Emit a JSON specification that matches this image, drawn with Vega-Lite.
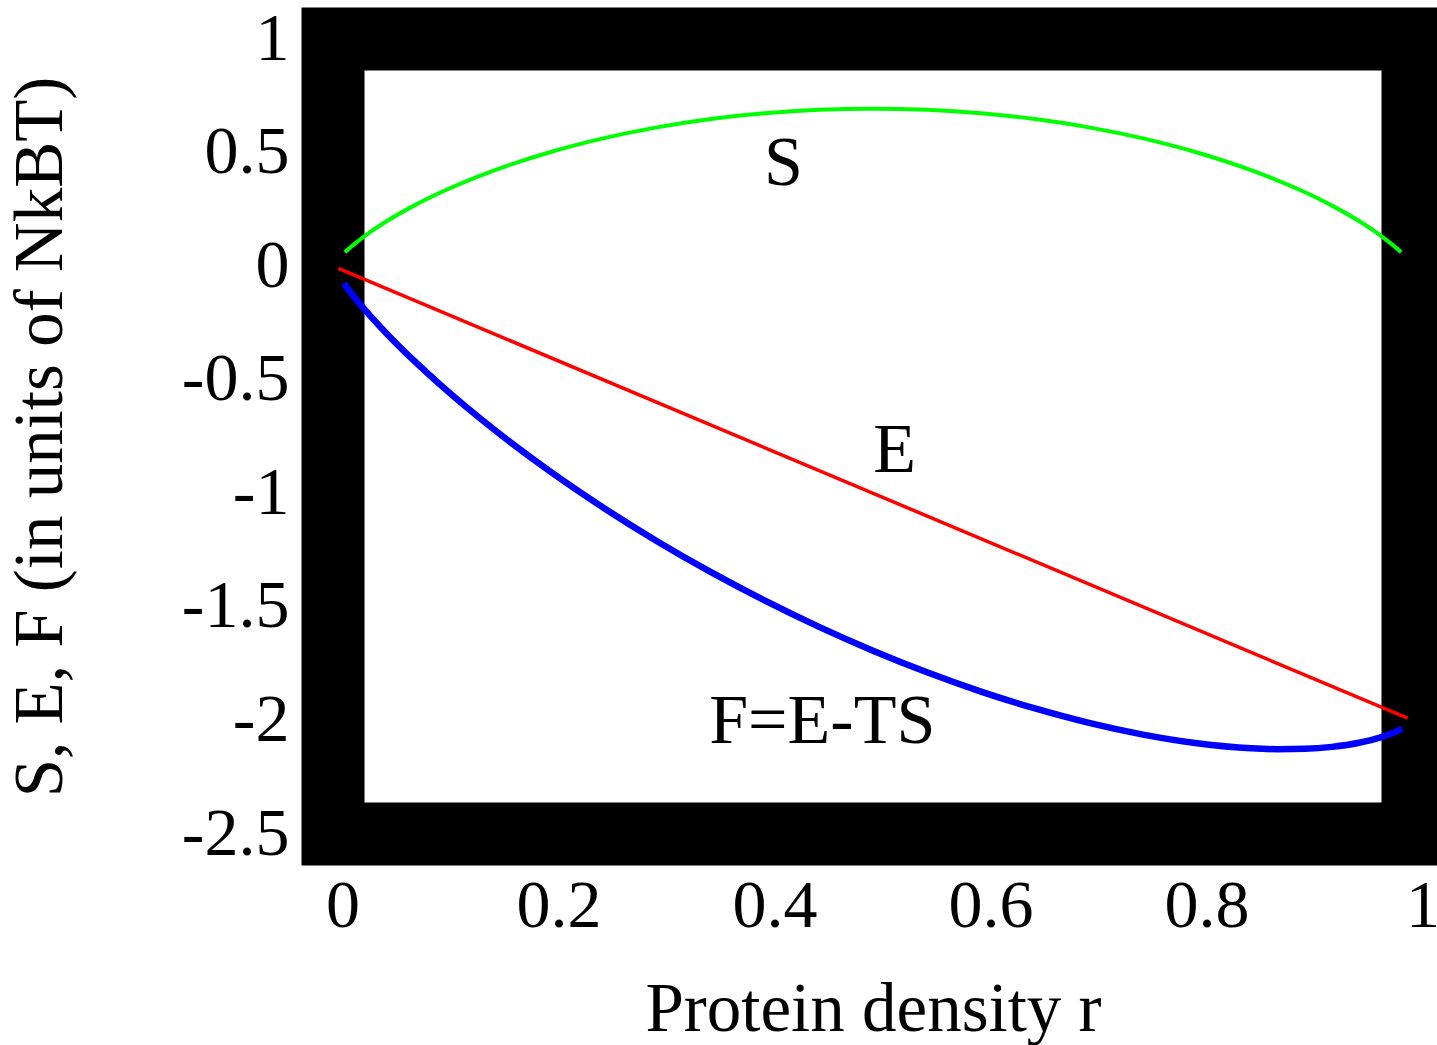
{
  "$schema": "https://vega.github.io/schema/vega-lite/v6.json",
  "width": 1080,
  "height": 795,
  "autosize": {"type": "none"},
  "padding": {"left": 333, "top": 39, "right": 24, "bottom": 211},
  "background": "white",
  "datasets": {
    "curves": [
      {"r": 0.011, "v": 0.0616, "c": "S"},
      {"r": 0.02, "v": 0.098, "c": "S"},
      {"r": 0.03, "v": 0.1348, "c": "S"},
      {"r": 0.05, "v": 0.1985, "c": "S"},
      {"r": 0.075, "v": 0.2664, "c": "S"},
      {"r": 0.1, "v": 0.3251, "c": "S"},
      {"r": 0.15, "v": 0.4227, "c": "S"},
      {"r": 0.2, "v": 0.5004, "c": "S"},
      {"r": 0.25, "v": 0.5623, "c": "S"},
      {"r": 0.3, "v": 0.6109, "c": "S"},
      {"r": 0.35, "v": 0.6474, "c": "S"},
      {"r": 0.4, "v": 0.673, "c": "S"},
      {"r": 0.45, "v": 0.6881, "c": "S"},
      {"r": 0.5, "v": 0.6931, "c": "S"},
      {"r": 0.55, "v": 0.6881, "c": "S"},
      {"r": 0.6, "v": 0.673, "c": "S"},
      {"r": 0.65, "v": 0.6474, "c": "S"},
      {"r": 0.7, "v": 0.6109, "c": "S"},
      {"r": 0.75, "v": 0.5623, "c": "S"},
      {"r": 0.8, "v": 0.5004, "c": "S"},
      {"r": 0.85, "v": 0.4227, "c": "S"},
      {"r": 0.9, "v": 0.3251, "c": "S"},
      {"r": 0.925, "v": 0.2664, "c": "S"},
      {"r": 0.95, "v": 0.1985, "c": "S"},
      {"r": 0.97, "v": 0.1348, "c": "S"},
      {"r": 0.98, "v": 0.098, "c": "S"},
      {"r": 0.989, "v": 0.0616, "c": "S"},
      {"r": 0.005, "v": -0.01, "c": "E"},
      {"r": 0.995, "v": -1.99, "c": "E"},
      {"r": 0.01, "v": -0.076, "c": "F"},
      {"r": 0.02, "v": -0.138, "c": "F"},
      {"r": 0.03, "v": -0.1948, "c": "F"},
      {"r": 0.05, "v": -0.2985, "c": "F"},
      {"r": 0.075, "v": -0.4164, "c": "F"},
      {"r": 0.1, "v": -0.5251, "c": "F"},
      {"r": 0.15, "v": -0.7227, "c": "F"},
      {"r": 0.2, "v": -0.9004, "c": "F"},
      {"r": 0.25, "v": -1.0623, "c": "F"},
      {"r": 0.3, "v": -1.2109, "c": "F"},
      {"r": 0.35, "v": -1.3474, "c": "F"},
      {"r": 0.4, "v": -1.473, "c": "F"},
      {"r": 0.45, "v": -1.5881, "c": "F"},
      {"r": 0.5, "v": -1.6931, "c": "F"},
      {"r": 0.55, "v": -1.7881, "c": "F"},
      {"r": 0.6, "v": -1.873, "c": "F"},
      {"r": 0.65, "v": -1.9474, "c": "F"},
      {"r": 0.7, "v": -2.0109, "c": "F"},
      {"r": 0.75, "v": -2.0623, "c": "F"},
      {"r": 0.8, "v": -2.1004, "c": "F"},
      {"r": 0.85, "v": -2.1227, "c": "F"},
      {"r": 0.875, "v": -2.1268, "c": "F"},
      {"r": 0.9, "v": -2.1251, "c": "F"},
      {"r": 0.925, "v": -2.1164, "c": "F"},
      {"r": 0.95, "v": -2.0985, "c": "F"},
      {"r": 0.97, "v": -2.0748, "c": "F"},
      {"r": 0.98, "v": -2.058, "c": "F"},
      {"r": 0.99, "v": -2.036, "c": "F"}
    ],
    "labels": [
      {"r": 0.417, "v": 0.357, "label": "S"},
      {"r": 0.52, "v": -0.906, "label": "E"},
      {"r": 0.453, "v": -2.099, "label": "F=E-TS"}
    ]
  },
  "encoding": {
    "x": {
      "field": "r",
      "type": "quantitative",
      "scale": {"domain": [0, 1], "nice": false, "zero": false},
      "axis": {
        "values": [0, 0.2, 0.4, 0.6, 0.8, 1],
        "format": "~g",
        "title": "Protein density r",
        "labelOffset": 9.5,
        "labelPadding": 38,
        "titlePadding": 35,
        "labelFlush": false,
        "labelOverlap": false
      }
    },
    "y": {
      "field": "v",
      "type": "quantitative",
      "scale": {"domain": [-2.5, 1], "nice": false, "zero": false},
      "axis": {
        "values": [-2.5, -2, -1.5, -1, -0.5, 0, 0.5, 1],
        "labelExpr": "replace(format(datum.value, '~g'), '\u2212', '-')",
        "title": "S, E, F (in units of NkBT)",
        "labelPadding": 44,
        "titlePadding": 106,
        "labelFlush": false,
        "labelOverlap": false
      }
    }
  },
  "layer": [
    {
      "data": {"name": "curves"},
      "transform": [{"filter": "datum.c === 'S'"}],
      "mark": {"type": "line", "color": "#00ff00", "strokeWidth": 4, "interpolate": "monotone"}
    },
    {
      "data": {"name": "curves"},
      "transform": [{"filter": "datum.c === 'E'"}],
      "mark": {"type": "line", "color": "#ff0000", "strokeWidth": 3.5}
    },
    {
      "data": {"name": "curves"},
      "transform": [{"filter": "datum.c === 'F'"}],
      "mark": {"type": "line", "color": "#0000ff", "strokeWidth": 6.5, "interpolate": "monotone"}
    },
    {
      "data": {"name": "labels"},
      "mark": {"type": "text", "font": "Liberation Serif", "fontSize": 70, "align": "center", "baseline": "alphabetic", "color": "black"},
      "encoding": {"text": {"field": "label", "type": "nominal"}}
    }
  ],
  "config": {
    "view": {"stroke": "black", "strokeWidth": 63, "fill": "white"},
    "axis": {
      "domain": false,
      "ticks": false,
      "tickSize": 0,
      "grid": false,
      "labelFont": "Liberation Serif",
      "titleFont": "Liberation Serif",
      "labelFontSize": 68,
      "titleFontSize": 69,
      "labelColor": "black",
      "titleColor": "black",
      "titleFontWeight": "normal"
    }
  }
}
